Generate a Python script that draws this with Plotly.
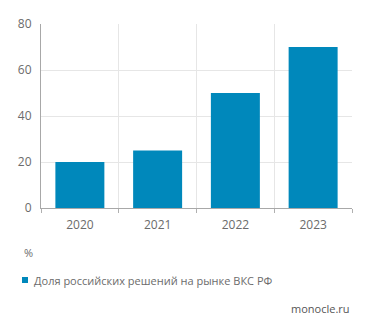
import plotly.graph_objects as go

years = ["2020", "2021", "2022", "2023"]
share = [20, 25, 50, 70]
series_name = "Доля российских решений на рынке ВКС РФ"
unit_label = "%"
source_label = "monocle.ru"
y_ticks = [0, 20, 40, 60, 80]

bar_color = "#0088BB"
text_color = "#6B6B6B"
font_family = "Open Sans, Lato, sans-serif"

fig = go.Figure()
fig.add_trace(go.Bar(x=years, y=share, marker_color=bar_color, marker_line_width=0,
                     name=series_name, showlegend=False))

fig.update_layout(
    width=371, height=330,
    margin=dict(l=41, r=19, t=24, b=122),
    paper_bgcolor="white", plot_bgcolor="white",
    bargap=0.37,
    font=dict(family=font_family, color=text_color, size=12),
    xaxis=dict(showgrid=True, gridcolor="#E6E6E6", gridwidth=1, tickson="boundaries",
               ticks="outside", ticklen=4, tickcolor="#B0B0B0",
               showline=True, linecolor="#A8A8A8", linewidth=1,
               ticklabelstandoff=6,
               tickfont=dict(size=12, color=text_color)),
    yaxis=dict(range=[0, 80], tickvals=y_ticks, showgrid=True, gridcolor="#E6E6E6",
               showline=True, linecolor="#A8A8A8", linewidth=1, zeroline=False,
               ticks="", ticklabelstandoff=6,
               tickfont=dict(size=12, color=text_color)),
)

fig.add_annotation(text=unit_label, xref="paper", yref="paper",
                   x=-19/311, y=-44/184, xanchor="left", yanchor="middle",
                   showarrow=False, font=dict(size=11, color=text_color))
fig.add_shape(type="rect", xref="paper", yref="paper",
              x0=-19/311, x1=-13/311, y0=-69/184, y1=-75/184,
              fillcolor=bar_color, line_width=0)
fig.add_annotation(text=series_name, xref="paper", yref="paper",
                   x=-9/311, y=-72/184, xanchor="left", yanchor="middle",
                   showarrow=False, font=dict(size=11, color=text_color))
fig.add_annotation(text=source_label, xref="paper", yref="paper",
                   x=1, y=-100/184, xanchor="right", yanchor="middle",
                   showarrow=False, font=dict(size=11, color="#555555"))

fig.write_html("out.html")
